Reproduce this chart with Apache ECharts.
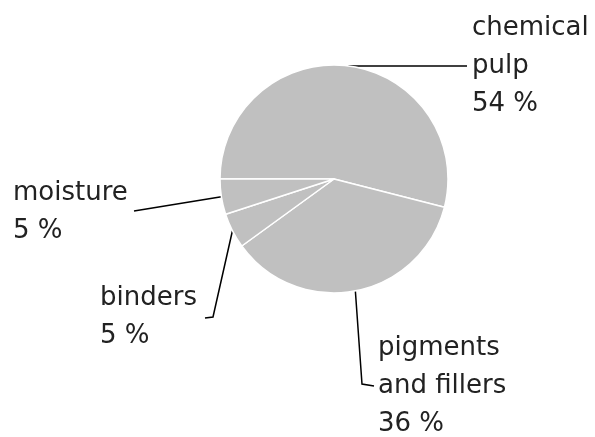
<!DOCTYPE html>
<html>
<head>
<meta charset="UTF-8">
<script src="https://cdn.jsdelivr.net/npm/echarts@6/dist/echarts.min.js"></script>
<style>
    html, body {margin: 0; padding: 0; background: #fff;}
    #paperpie {width: 595px; height: 437px;}
</style>
</head>
<body>
<div id="paperpie"></div>
<script>
    /*data*/
    var categories = ['chemical\npulp', 'pigments\nand fillers', 'binders', 'moisture'];
    var shares = [54, 36, 5, 5];

    /*label placement: text left/middle, then the points the leader line runs through after leaving the slice*/
    var labelSpots = [
        {x: 472, y: 66, line: [[467, 66]]},
        {x: 378, y: 386, line: [[362, 384], [374, 386]]},
        {x: 100, y: 317, line: [[213, 317], [205, 318]]},
        {x: 13, y: 212, line: [[134, 211]]}
    ];

    var chart = function () {
        var paperChart = echarts.init(document.getElementById('paperpie'));
        var pieData = categories.map(function (name, i) {
            return {name: name, value: shares[i]};
        });
        var option = {
            backgroundColor: '#ffffff',
            animation: false,
            series: [{
                type: 'pie',
                center: [334, 179],
                radius: 114,
                startAngle: 180,
                clockwise: true,
                data: pieData,
                itemStyle: {
                    color: '#c0c0c0',
                    borderColor: '#ffffff',
                    borderWidth: 1.5
                },
                emphasis: {disabled: true},
                label: {
                    show: true,
                    position: 'outside',
                    fontFamily: 'DejaVu Sans',
                    fontSize: 26,
                    lineHeight: 38,
                    color: '#222',
                    formatter: function (p) {
                        return p.name + '\n' + Math.round(p.percent) + ' %';
                    }
                },
                labelLine: {
                    show: true,
                    lineStyle: {color: '#000', width: 1.5}
                },
                labelLayout: function (params) {
                    var spot = labelSpots[params.dataIndex];
                    var start = params.labelLinePoints ? params.labelLinePoints[0] : null;
                    var pts = start ? [start].concat(spot.line) : null;
                    return {
                        x: spot.x,
                        y: spot.y,
                        align: 'left',
                        verticalAlign: 'middle',
                        labelLinePoints: pts
                    };
                }
            }]
        };
        paperChart.setOption(option);
    };

    chart();
</script>
</body>
</html>
